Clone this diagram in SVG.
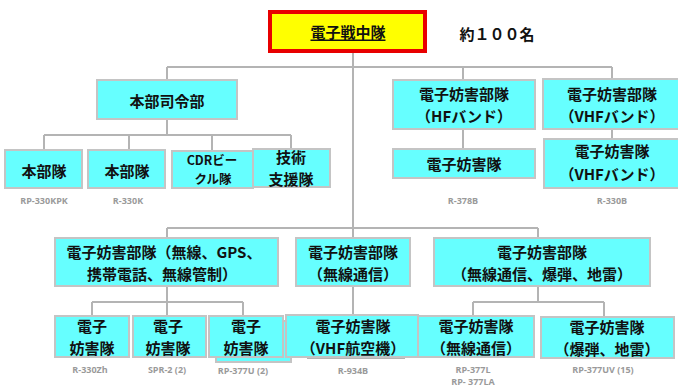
<svg xmlns="http://www.w3.org/2000/svg" width="678" height="390" viewBox="0 0 678 390">
<style>
.bg{fill:#ffffff}
.box{fill:#66ffff;stroke:#c4c4c4;stroke-width:2}
.t{font-family:"Noto Sans CJK JP","Noto Sans",sans-serif;font-weight:bold;font-size:15px;fill:#111;text-anchor:middle;dominant-baseline:central}
.s{font-size:12.5px}
.lab{font-family:"Open Sans","Liberation Sans",sans-serif;font-weight:bold;font-size:9px;fill:#9a9a9a;text-anchor:middle;dominant-baseline:central}
.ln{fill:none;stroke:#b4b4b4;stroke-width:2}
</style>
<rect class="bg" x="0" y="0" width="678" height="390"/>
<g id="connectors">
<path class="ln" d="M353 53V316 M167 67H612 M167 67V80 M463 67V80 M612 67V79 M167 119V135 M44 135H291 M44 135V150 M129 135V150 M212 135V151 M291 135V149 M463 129V149 M612 129V139 M167 228H538 M167 228V238 M538 228V238 M167 286V302 M92 302H243 M92 302V316 M167 302V316 M243 302V316 M538 286V302 M473 302H604 M473 302V316 M604 302V317"/>
<path class="ln" d="M307 358H405" stroke-width="1.5"/>
</g>
<g id="root">
<rect x="270" y="12" width="155" height="39" fill="#ffff00" stroke="#e80000" stroke-width="4"/>
<text class="t" x="348" y="31" text-decoration="underline">電子戦中隊</text>
</g>
<g id="count"><text class="t" x="497" y="33">約１００名</text></g>
<g id="hq"><rect class="box" x="97" y="80" width="140" height="39"/><text class="t" x="167" y="100">本部司令部</text></g>
<g id="hq1"><rect class="box" x="5" y="150" width="77" height="38"/><text class="t" x="44" y="170">本部隊</text><text class="lab" x="44" y="200">RP-330KPK</text></g>
<g id="hq2"><rect class="box" x="88" y="150" width="77" height="38"/><text class="t" x="127" y="170">本部隊</text><text class="lab" x="128" y="200">R-330K</text></g>
<g id="cdr"><rect class="box" x="172" y="151" width="81" height="37"/><text class="t s" x="212" y="159">CDRビー</text><text class="t s" x="213" y="178">クル隊</text></g>
<g id="tech"><rect class="box" x="253" y="149" width="77" height="38"/><text class="t" x="291" y="156">技術</text><text class="t" x="291" y="178">支援隊</text></g>
<g id="hf"><rect class="box" x="393" y="80" width="142" height="49"/><text class="t" x="464" y="93">電子妨害部隊</text><text class="t" x="464" y="115">（HFバンド）</text></g>
<g id="hf1"><rect class="box" x="393" y="149" width="142" height="29"/><text class="t" x="464" y="163">電子妨害隊</text><text class="lab" x="463" y="200">R-378B</text></g>
<g id="vhf"><rect class="box" x="543" y="79" width="136" height="50"/><text class="t" x="612" y="93">電子妨害部隊</text><text class="t" x="612" y="115">（VHFバンド）</text></g>
<g id="vhf1"><rect class="box" x="544" y="139" width="135" height="49"/><text class="t" x="612" y="150">電子妨害隊</text><text class="t" x="612" y="173">（VHFバンド）</text><text class="lab" x="612" y="200">R-330B</text></g>
<g id="gps"><rect class="box" x="55" y="238" width="223" height="48"/><text class="t" x="164" y="251">電子妨害部隊（無線、GPS、</text><text class="t" x="162" y="273">携帯電話、無線管制）</text></g>
<g id="radio"><rect class="box" x="296" y="238" width="114" height="48"/><text class="t" x="353" y="251">電子妨害部隊</text><text class="t" x="353" y="273">（無線通信）</text></g>
<g id="mine"><rect class="box" x="434" y="238" width="216" height="48"/><text class="t" x="542" y="251">電子妨害部隊</text><text class="t" x="542" y="273">（無線通信、爆弾、地雷）</text></g>
<g id="b1"><rect class="box" x="55" y="316" width="74" height="41"/><text class="t" x="92" y="325">電子</text><text class="t" x="92" y="347">妨害隊</text><text class="lab" x="90" y="369">R-330Zh</text></g>
<g id="b2"><rect class="box" x="133" y="316" width="73" height="41"/><text class="t" x="168" y="325">電子</text><text class="t" x="168" y="347">妨害隊</text><text class="lab" x="167" y="369">SPR-2 (2)</text></g>
<g id="b3"><rect class="box" x="216" y="321" width="75" height="41" stroke-width="1.5"/><rect class="box" x="209" y="316" width="74" height="41"/><text class="t" x="246" y="325">電子</text><text class="t" x="246" y="347">妨害隊</text><text class="lab" x="243" y="370">RP-377U (2)</text></g>
<g id="b4"><rect class="box" x="286" y="315" width="132" height="42"/><text class="t" x="353" y="325">電子妨害隊</text><text class="t" x="353" y="347">（VHF航空機）</text><text class="lab" x="353" y="370">R-934B</text></g>
<g id="b5"><rect class="box" x="418" y="316" width="116" height="41"/><text class="t" x="476" y="325">電子妨害隊</text><text class="t" x="476" y="347">（無線通信）</text><text class="lab" x="473" y="369">RP-377L</text><text class="lab" x="473" y="381">RP- 377LA</text></g>
<g id="b6"><rect class="box" x="541" y="317" width="133" height="41"/><text class="t" x="607" y="326">電子妨害隊</text><text class="t" x="607" y="348">（爆弾、地雷）</text><text class="lab" x="603" y="369">RP-377UV (15)</text></g>
</svg>
